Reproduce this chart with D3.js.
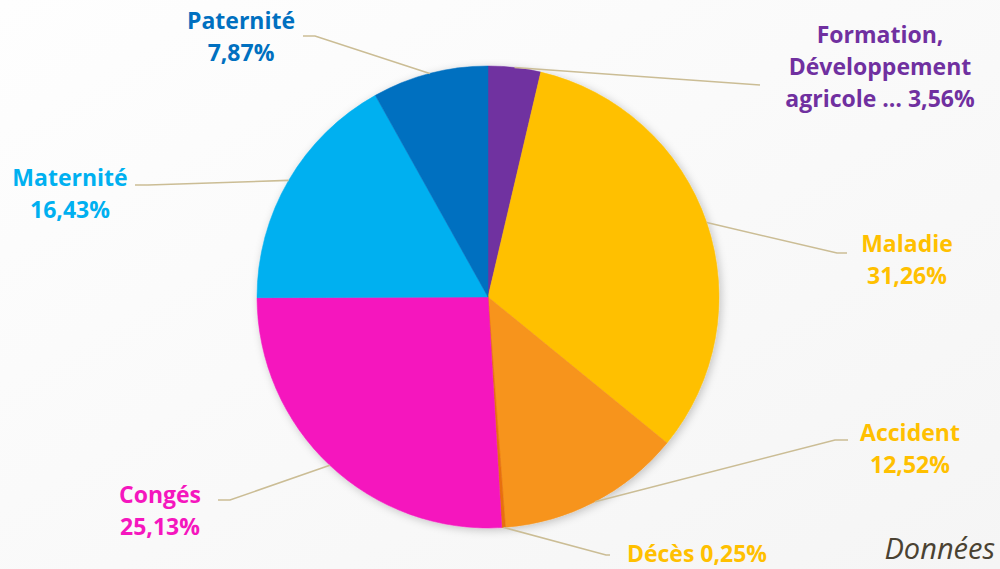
<!DOCTYPE html>
<html>
<head>
<meta charset="utf-8">
<script src="https://cdn.jsdelivr.net/npm/d3@7/dist/d3.min.js"></script>
<style>
  html, body { margin: 0; padding: 0; background: #fafafa; }
  svg { display: block; }
</style>
</head>
<body>
<svg id="chart" width="1000" height="569"></svg>
<script>
// Répartition des absences par motif (%)
const categories = ["Formation, Développement agricole …", "Maladie", "Accident", "Décès", "Congés", "Maternité", "Paternité"];
const values = [3.56, 31.26, 12.52, 0.25, 25.13, 16.43, 7.87];
const sliceColors = ["#7030A0", "#FFC000", "#F7941D", "#E8700F", "#F516BE", "#00B0F0", "#0070C0"];
const labelColors = ["#7030A0", "#FFC000", "#FFC000", "#FFC000", "#F516BE", "#00B0F0", "#0070C0"];
const labelLines = [
  ["Formation,", "Développement", "agricole … {v}"],
  ["Maladie", "{v}"],
  ["Accident", "{v}"],
  ["Décès {v}"],
  ["Congés", "{v}"],
  ["Maternité", "{v}"],
  ["Paternité", "{v}"]
];

// label placement: text centre x, first baseline y, leader elbow and end points
const labelLayout = [
  { x: 880, y: 43,  elbow: [760, 85],  end: [760, 85] },
  { x: 907, y: 252, elbow: [837, 253], end: [847, 253] },
  { x: 910, y: 441, elbow: [835, 440], end: [848, 440] },
  { x: 697, y: 562, elbow: [606, 555], end: [610, 555] },
  { x: 160, y: 503, elbow: [230, 500], end: [218, 500] },
  { x: 70,  y: 186, elbow: [148, 185], end: [135, 185] },
  { x: 241, y: 29,  elbow: [315, 36],  end: [303, 36] }
];

const fmt = v => d3.format(".2f")(v).replace(".", ",") + "%";

const svg = d3.select("#chart");
const W = 1000, H = 569;
const cx = 488, cy = 297, R = 231;

// background
const defs = svg.append("defs");
const bg = defs.append("linearGradient").attr("id", "bg")
  .attr("x1", 0).attr("y1", 0).attr("x2", 1).attr("y2", 1);
bg.append("stop").attr("offset", 0).attr("stop-color", "#fefefe");
bg.append("stop").attr("offset", 1).attr("stop-color", "#f5f5f5");
svg.append("rect").attr("width", W).attr("height", H).attr("fill", "url(#bg)");

const shadow = defs.append("filter").attr("id", "shadow")
  .attr("x", "-20%").attr("y", "-20%").attr("width", "140%").attr("height", "140%");
shadow.append("feDropShadow").attr("dx", 2).attr("dy", 2).attr("stdDeviation", 4)
  .attr("flood-color", "#000").attr("flood-opacity", 0.22);

const data = categories.map((c, i) => ({ name: c, value: values[i], i }));
const pie = d3.pie().value(d => d.value).sort(null);
const arcs = pie(data);
const arc = d3.arc().innerRadius(0).outerRadius(R);

const g = svg.append("g").attr("transform", `translate(${cx},${cy})`);
g.append("g").attr("filter", "url(#shadow)")
  .selectAll("path").data(arcs).join("path")
  .attr("d", arc)
  .attr("fill", d => sliceColors[d.data.i])
  .attr("stroke", d => sliceColors[d.data.i])
  .attr("stroke-width", 0.5);

// leader lines from the rim at each slice's mid angle
svg.append("g").selectAll("polyline").data(arcs).join("polyline")
  .attr("fill", "none")
  .attr("stroke", "#CBBD95")
  .attr("stroke-width", 1.6)
  .attr("points", d => {
    const a = (d.startAngle + d.endAngle) / 2;
    const p0 = [cx + R * Math.sin(a), cy - R * Math.cos(a)];
    const L = labelLayout[d.data.i];
    return [p0, L.elbow, L.end].map(p => p.join(",")).join(" ");
  });

// labels
const labels = svg.append("g")
  .attr("font-family", "'Open Sans', 'Noto Sans', sans-serif")
  .attr("font-weight", 700)
  .attr("font-size", 23)
  .attr("text-anchor", "middle");

data.forEach(d => {
  const L = labelLayout[d.i];
  const t = labels.append("text")
    .attr("x", L.x).attr("y", L.y)
    .attr("fill", labelColors[d.i]);
  labelLines[d.i].forEach((line, k) => {
    t.append("tspan")
      .attr("x", L.x)
      .attr("dy", k === 0 ? 0 : 32)
      .text(line.replace("{v}", fmt(d.value)));
  });
});

svg.append("text")
  .attr("x", 995).attr("y", 559)
  .attr("text-anchor", "end")
  .attr("font-family", "'Open Sans', sans-serif")
  .attr("font-style", "italic")
  .attr("font-size", 29)
  .attr("fill", "#4A4232")
  .text("Données");
</script>
</body>
</html>
